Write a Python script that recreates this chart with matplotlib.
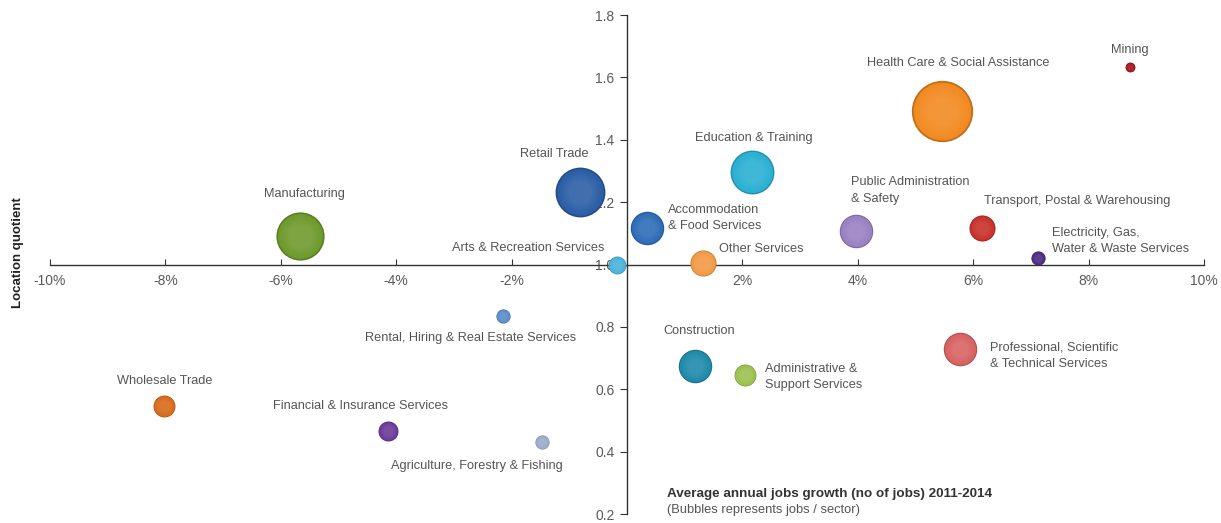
import numpy as np
import matplotlib.pyplot as plt
from matplotlib.colors import to_rgb

plt.rcParams['font.family'] = ['Liberation Sans', 'DejaVu Sans']

# data
sectors = ['Mining', 'Health Care & Social Assistance', 'Education & Training',
           'Retail Trade', 'Manufacturing', 'Accommodation\n& Food Services',
           'Public Administration\n& Safety', 'Transport, Postal & Warehousing',
           'Electricity, Gas,\nWater & Waste Services', 'Arts & Recreation Services',
           'Other Services', 'Rental, Hiring & Real Estate Services', 'Construction',
           'Administrative &\nSupport Services', 'Professional, Scientific\n& Technical Services',
           'Wholesale Trade', 'Financial & Insurance Services',
           'Agriculture, Forestry & Fishing']
growth = [8.72, 5.46, 2.17, -0.81, -5.67, 0.35, 3.97, 6.15, 7.12, -0.17,
          1.32, -2.15, 1.18, 2.05, 5.77, -8.02, -4.14, -1.47]
lq = [1.632, 1.491, 1.295, 1.234, 1.09, 1.116, 1.109, 1.116, 1.02, 1.0,
      1.006, 0.836, 0.673, 0.647, 0.73, 0.547, 0.467, 0.432]
jobs = [1.2, 47, 24, 31, 29, 14, 14, 8.5, 2.5, 4,
        8.5, 2.5, 14, 6, 14, 6, 5, 2.5]
colors = ['#a3161a', '#f28a22', '#2ab0d2', '#2b5ea6', '#6e9a2c', '#2e6cb8',
          '#9a80c2', '#c8302a', '#4a2a80', '#4ab2da', '#f29a45', '#5b8cc8',
          '#1f8aaa', '#9cc050', '#d86262', '#d86a1a', '#6a3a98', '#9aacca']

# label placement (offset in pixels from bubble centre, alignment)
label_pos = {
    'Mining': (0, 17, 'center'),
    'Health Care & Social Assistance': (16, 48, 'center'),
    'Education & Training': (2, 34, 'center'),
    'Retail Trade': (-26, 38, 'center'),
    'Manufacturing': (5, 42, 'center'),
    'Accommodation\n& Food Services': (21, 10, 'left'),
    'Public Administration\n& Safety': (-5, 40, 'left'),
    'Transport, Postal & Warehousing': (2, 27, 'left'),
    'Electricity, Gas,\nWater & Waste Services': (14, 17, 'left'),
    'Arts & Recreation Services': (-13, 17, 'right'),
    'Other Services': (16, 14, 'left'),
    'Rental, Hiring & Real Estate Services': (-32, -22, 'center'),
    'Construction': (4, 35, 'center'),
    'Administrative &\nSupport Services': (20, -2, 'left'),
    'Professional, Scientific\n& Technical Services': (30, -7, 'left'),
    'Wholesale Trade': (1, 25, 'center'),
    'Financial & Insurance Services': (-28, 25, 'center'),
    'Agriculture, Forestry & Fishing': (-65, -24, 'center'),
}

fig = plt.figure(figsize=(12.21, 5.23), dpi=100)
ax = fig.add_axes([50/1221, 9/523, 1154/1221, 499/523])

ax.set_xlim(-10, 10)
ax.set_ylim(0.2, 1.8)

sizes = np.array(jobs) * 41.5

def mix(c, t):
    r = np.array(to_rgb(c))
    return tuple(r + (1 - r) * t)

def dark(c, t):
    return tuple(np.array(to_rgb(c)) * (1 - t))

# pseudo-3D bubbles: darker rim, slightly lighter centre
for x, y, s, c in zip(growth, lq, sizes, colors):
    ax.scatter(x, y, s=s, color=dark(c, 0.2), zorder=3, linewidths=0)
    n = 6
    for k in range(n):
        f = 0.94 - 0.55 * k / n
        ax.scatter(x, y, s=s * f**2, color=mix(c, 0.12 * k / n),
                   zorder=3, linewidths=0)

for x, y, name in zip(growth, lq, sectors):
    dx, dy, ha = label_pos[name]
    ax.annotate(name, (x, y), xytext=(dx, dy), textcoords='offset pixels',
                ha=ha, va='center', fontsize=9.2, color='#555555',
                linespacing=1.45, zorder=4)

# axes crossing at (0, 1.0)
ax.spines['left'].set_position(('data', 0))
ax.spines['bottom'].set_position(('data', 1.0))
ax.spines['top'].set_visible(False)
ax.spines['right'].set_visible(False)
for sp in ['left', 'bottom']:
    ax.spines[sp].set_color('#333333')
    ax.spines[sp].set_linewidth(1.0)

xt = np.arange(-10, 11, 2)
xt = xt[xt != 0]
ax.set_xticks(xt)
ax.set_xticklabels(['%d%%' % v for v in xt])
yt = [0.2, 0.4, 0.6, 0.8, 1.0, 1.2, 1.4, 1.6, 1.8]
ax.set_yticks(yt)
ax.set_yticklabels(['%.1f' % v for v in yt])
ax.tick_params(axis='x', direction='in', length=4, pad=7, labelsize=10,
               labelcolor='#5a5a5a', color='#333333')
ax.tick_params(axis='y', direction='out', length=5, pad=4, labelsize=10,
               labelcolor='#5a5a5a', color='#333333')

fig.text(18/1221, 1 - 253/523, 'Location quotient', rotation=90,
         ha='center', va='center', fontsize=9.5, fontweight='bold', color='#222222')
fig.text(667/1221, 1 - 494/523, 'Average annual jobs growth (no of jobs) 2011-2014',
         ha='left', va='center', fontsize=9.7, fontweight='bold', color='#333333')
fig.text(667/1221, 1 - 510/523, '(Bubbles represents jobs / sector)',
         ha='left', va='center', fontsize=9.3, color='#555555')

plt.savefig('out.png', dpi=100)
